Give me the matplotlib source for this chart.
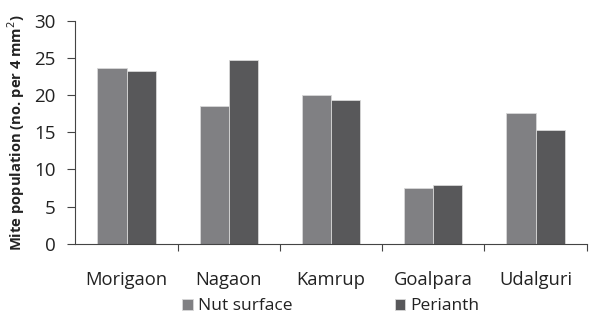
import numpy as np
import matplotlib
matplotlib.use("Agg")
import matplotlib.pyplot as plt

# Data
districts = ['Morigaon', 'Nagaon', 'Kamrup', 'Goalpara', 'Udalguri']
nut_surface = [23.7, 18.5, 20.0, 7.5, 17.6]
perianth = [23.2, 24.7, 19.4, 7.9, 15.3]
y_ticks = [0, 5, 10, 15, 20, 25, 30]

plt.rcParams['font.family'] = ['Open Sans', 'DejaVu Sans']

fig = plt.figure(figsize=(6.03, 3.19), dpi=100)
ax = fig.add_axes([0.125, 0.236, 0.848, 0.699])

x = np.arange(len(districts))
width = 0.285
ax.bar(x - width / 2, nut_surface, width, color='#808083', edgecolor='#d8d8d8',
       linewidth=0.6, label='Nut surface', zorder=2)
ax.bar(x + width / 2, perianth, width, color='#58585a', edgecolor='#d8d8d8',
       linewidth=0.6, label='Perianth', zorder=2)

ax.set_xlim(-0.5, len(districts) - 0.5)
ax.set_ylim(0, 30)
ax.set_yticks(y_ticks)
ax.tick_params(axis='y', labelsize=13.5, length=6, width=0.8, color='#444444',
               pad=8, labelcolor='#222222')

ax.set_xticks(x)
ax.set_xticklabels(districts)
ax.set_xticks(np.arange(len(districts)) + 0.5, minor=True)
ax.tick_params(axis='x', which='major', length=0, labelsize=13.2, pad=19.5,
               labelcolor='#222222')
ax.tick_params(axis='x', which='minor', length=5, width=0.8, color='#444444')

for side in ['top', 'right']:
    ax.spines[side].set_visible(False)
for side in ['left', 'bottom']:
    ax.spines[side].set_color('#444444')
    ax.spines[side].set_linewidth(0.8)

ax.set_ylabel('Mite population (no. per 4 mm$^2$)', fontsize=10.6, fontweight='bold',
              color='#222222', labelpad=5)

ax.legend(loc='upper center', bbox_to_anchor=(0.5, -0.19), ncol=2, frameon=False,
          fontsize=12.5, handlelength=0.6, handleheight=0.6, handletextpad=0.3,
          columnspacing=5.9, labelcolor='#222222', borderpad=0.2)

fig.savefig('out.png', dpi=100)
